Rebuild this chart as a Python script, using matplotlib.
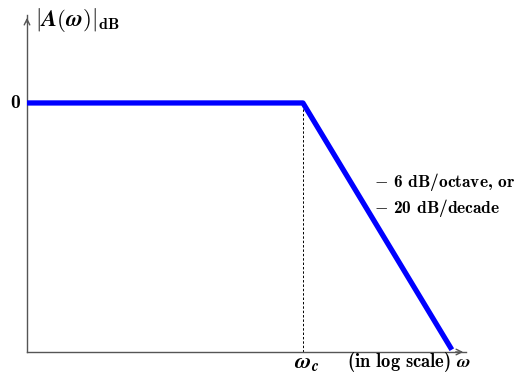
import matplotlib
matplotlib.use("Agg")
import matplotlib.pyplot as plt

plt.rcParams['mathtext.fontset'] = 'cm'
plt.rcParams['font.family'] = 'cmb10'

# Bode magnitude asymptote (cut-off at omega_c = 1)
omega = [0.01, 1.0, 12.0]
gain_db = [0.0, 0.0, -21.6]
omega_c = 1.0
slope_labels = [r'$-$ 6 dB/octave, or', r'$-$ 20 dB/decade']

fig = plt.figure(figsize=(5.31, 3.74), dpi=100)
ax = fig.add_axes([27 / 531, 22 / 374, 439 / 531, 337 / 374])
ax.set_xscale('log')
ax.set_xlim(0.01, 15.2)
ax.set_ylim(-21.8, 7.7)

ax.plot(omega, gain_db, color='#0000ff', lw=3.8, solid_capstyle='butt', zorder=3)
ax.plot([omega_c, omega_c], [-21.8, 0], color='black', lw=0.7, ls=(0, (2.5, 2)), zorder=2)

for s in ['top', 'right']:
    ax.spines[s].set_visible(False)
for s in ['left', 'bottom']:
    ax.spines[s].set_color('#555555')
    ax.spines[s].set_linewidth(1.0)

# arrow heads on both axes
ax.annotate('', xy=(1.0, 0), xytext=(0.97, 0), xycoords='axes fraction',
            arrowprops=dict(arrowstyle='->', color='#555555', lw=1.0))
ax.annotate('', xy=(0, 1.0), xytext=(0, 0.97), xycoords='axes fraction',
            arrowprops=dict(arrowstyle='->', color='#555555', lw=1.0))

ax.set_xticks([])
ax.set_yticks([])
ax.minorticks_off()
ax.tick_params(which='both', length=0)

ax.text(-0.015, 0, '0', transform=ax.get_yaxis_transform(),
        ha='right', va='center', fontsize=14)
ax.annotate(r'$\boldsymbol{\omega}_{\boldsymbol{c}}$', xy=(omega_c, 0),
            xycoords=ax.get_xaxis_transform(), xytext=(3, -11.5), textcoords='offset points',
            ha='center', va='baseline', fontsize=16)
ax.annotate(r'(in log scale) $\boldsymbol{\omega}$', xy=(1.0, 0),
            xycoords='axes fraction', xytext=(4, -11), textcoords='offset points',
            ha='right', va='baseline', fontsize=13.3)
ax.text(0.018, 0.985, r'$\boldsymbol{|A(\omega)|}_{\mathbf{dB}}$', transform=ax.transAxes,
        ha='left', va='center', fontsize=16.5)

ax.text(3.3, -6.9, slope_labels[0], ha='left', va='center', fontsize=12.5)
ax.text(3.3, -9.2, slope_labels[1], ha='left', va='center', fontsize=12.5)

fig.savefig('out.png', dpi=100)
